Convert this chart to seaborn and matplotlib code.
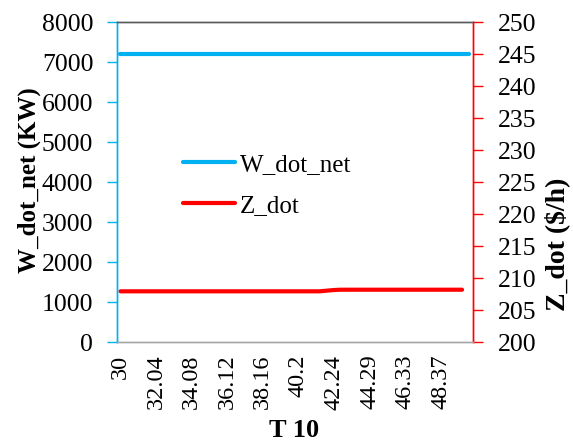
import matplotlib
matplotlib.use("Agg")
import matplotlib.pyplot as plt
import seaborn as sns
import pandas as pd

# x categories of T 10 (labels shown every 5th category)
t10_labels = ["30", "32.04", "34.08", "36.12", "38.16",
              "40.2", "42.24", "44.29", "46.33", "48.37"]
n_categories = 50

# W_dot_net (KW), left axis - flat across all categories
w_dot_net = [7190, 7190, 7190, 7190, 7190, 7190, 7190, 7190, 7190, 7190,
             7190, 7190, 7190, 7190, 7190, 7190, 7190, 7190, 7190, 7190,
             7190, 7190, 7190, 7190, 7190, 7190, 7190, 7190, 7190, 7190,
             7190, 7190, 7190, 7190, 7190, 7190, 7190, 7190, 7190, 7190,
             7190, 7190, 7190, 7190, 7190, 7190, 7190, 7190, 7190, 7190]

# Z_dot ($/h), right axis - small step near 42
z_dot = [207.95, 207.95, 207.95, 207.95, 207.95, 207.95, 207.95, 207.95, 207.95, 207.95,
         207.95, 207.95, 207.95, 207.95, 207.95, 207.95, 207.95, 207.95, 207.95, 207.95,
         207.95, 207.95, 207.95, 207.95, 207.95, 207.95, 207.95, 207.95, 207.95, 208.05,
         208.15, 208.2, 208.2, 208.2, 208.2, 208.2, 208.2, 208.2, 208.2, 208.2,
         208.2, 208.2, 208.2, 208.2, 208.2, 208.2, 208.2, 208.2, 208.2]

BLUE = "#00B0F0"
RED = "#FF0000"

sns.set_theme(style="white")
plt.rcParams["font.family"] = ["Liberation Serif", "DejaVu Serif"]
plt.rcParams["text.color"] = "black"
plt.rcParams["xtick.labelcolor"] = "black"
plt.rcParams["ytick.labelcolor"] = "black"
plt.rcParams["axes.labelcolor"] = "black"

df_w = pd.DataFrame({"idx": range(len(w_dot_net)), "W_dot_net": w_dot_net})
df_z = pd.DataFrame({"idx": range(len(z_dot)), "Z_dot": z_dot})

fig, ax = plt.subplots(figsize=(5.73, 4.41), dpi=100)
fig.subplots_adjust(left=0.204, right=0.825, top=0.950, bottom=0.224)
ax2 = ax.twinx()

sns.lineplot(data=df_w, x="idx", y="W_dot_net", ax=ax, color=BLUE, linewidth=3,
             label="W_dot_net", legend=False)
sns.lineplot(data=df_z, x="idx", y="Z_dot", ax=ax2, color=RED, linewidth=3,
             label="Z_dot", legend=False)

ax.set_xlim(-0.5, n_categories - 0.5)
ax.set_ylim(0, 8000)
ax.set_yticks(range(0, 8001, 1000))
ax2.set_ylim(200, 250)
ax2.set_yticks(range(200, 251, 5))

# category boundaries get the small tick marks, labels sit at category centres
ax.set_xticks([i - 0.5 for i in range(n_categories + 1)])
ax.set_xticklabels([])
ax.set_xticks(list(range(0, 50, 5)), minor=True)
ax.set_xticklabels(t10_labels, minor=True, rotation=90, fontsize=17.5)
ax.tick_params(axis="x", which="major", length=5, width=1, color="#A6A6A6", direction="out")
ax.tick_params(axis="x", which="minor", length=0, pad=9)

ax.tick_params(axis="y", length=7, width=1, color=BLUE, labelsize=18.5, pad=10, direction="out")
ax2.tick_params(axis="y", length=7, width=1, color=RED, labelsize=18.5, pad=11, direction="out")

for a in (ax, ax2):
    a.spines["left"].set_color(BLUE)
    a.spines["right"].set_color(RED)
    a.spines["top"].set_color("#595959")
    a.spines["bottom"].set_color("#A6A6A6")
    for s in a.spines.values():
        s.set_linewidth(1)
ax.grid(False)
ax2.grid(False)

ax.set_xlabel("T 10", fontsize=19, fontweight="bold", va="center")
ax.xaxis.set_label_coords(0.497, -0.275)
ax.set_ylabel("W_dot_net (KW)", fontsize=18, fontweight="bold", va="center")
ax.yaxis.set_label_coords(-0.245, 0.505)
ax2.set_ylabel("Z_dot ($/h)", fontsize=20, fontweight="bold", va="center")
ax2.yaxis.set_label_coords(1.238, 0.306)

h1, l1 = ax.get_legend_handles_labels()
h2, l2 = ax2.get_legend_handles_labels()
leg = ax.legend(h1 + h2, l1 + l2, loc="upper left", bbox_to_anchor=(0.185, 0.59),
                frameon=False, fontsize=18, handlelength=2.1, handletextpad=0.2,
                labelspacing=0.75, borderpad=0, borderaxespad=0)
ax.set_zorder(ax2.get_zorder() + 1)
ax.patch.set_visible(False)

fig.savefig("out.png", dpi=100)
